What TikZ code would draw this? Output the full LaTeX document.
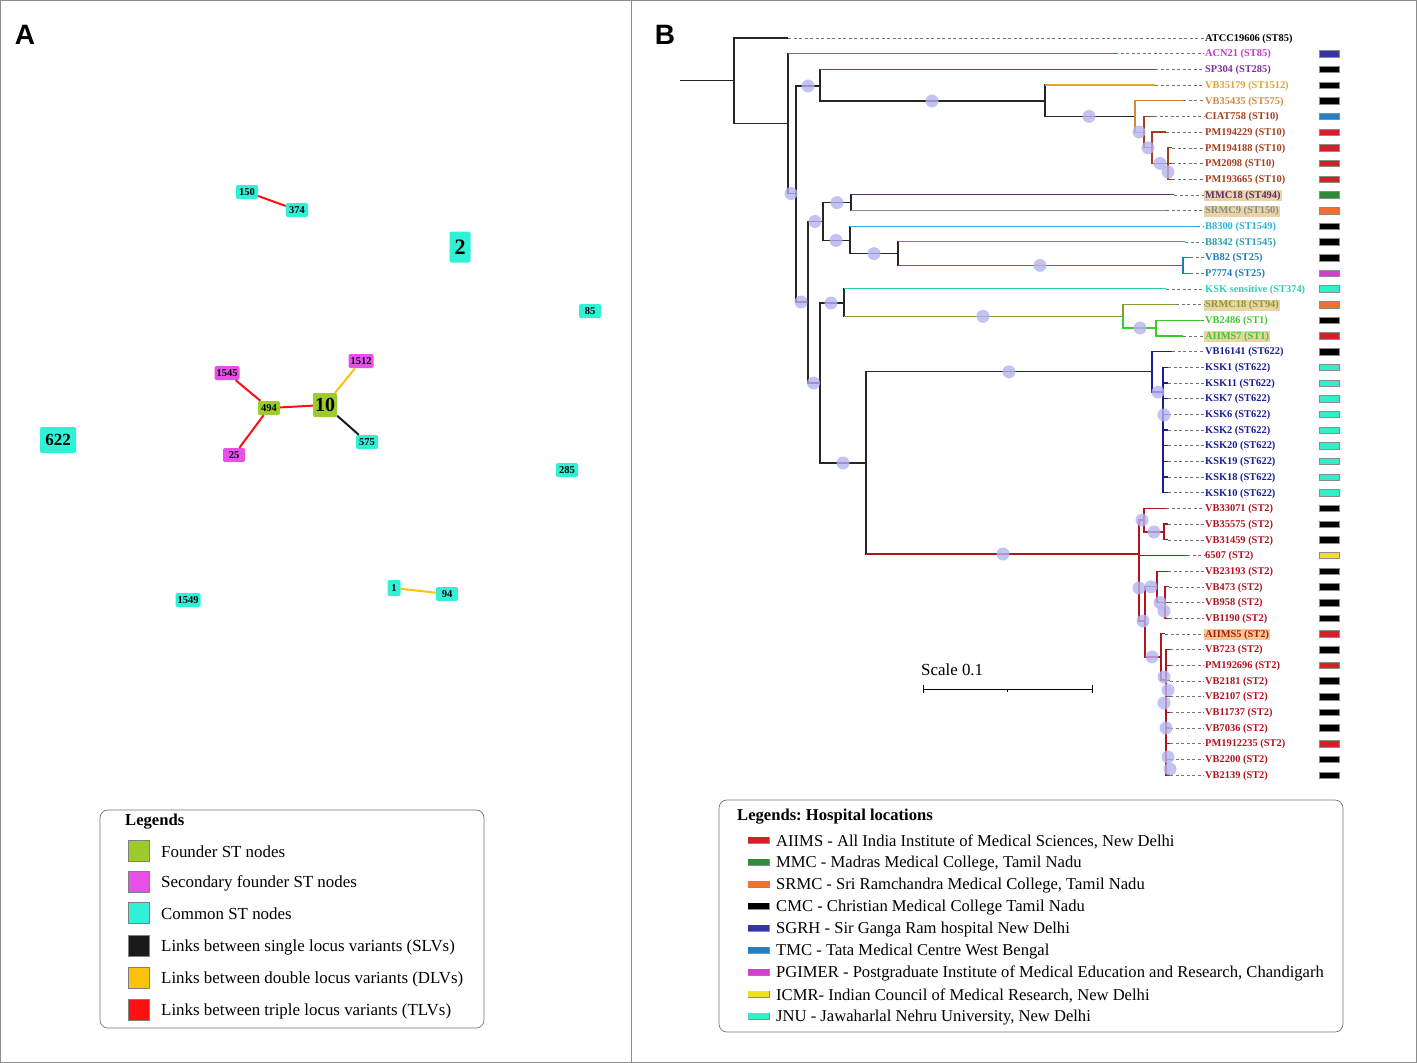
\documentclass[tikz,border=0pt]{standalone}
\usepackage{fontspec}
\setmainfont{Liberation Serif}
\newfontfamily\panelfont{Liberation Sans}
\usetikzlibrary{calc}
\frenchspacing

% node and link colours (panel A)
\definecolor{founder}{HTML}{9BCB2D}
\definecolor{secfounder}{HTML}{E650E6}
\definecolor{common}{HTML}{30F0D6}
\definecolor{slv}{HTML}{1A1A1A}
\definecolor{dlv}{HTML}{FFC20A}
\definecolor{tlv}{HTML}{FF1010}
% hospital colours (panel B)
\definecolor{aiims}{HTML}{D42027}
\definecolor{mmc}{HTML}{2E8B3A}
\definecolor{srmc}{HTML}{F07030}
\definecolor{cmc}{HTML}{000000}
\definecolor{sgrh}{HTML}{3535A8}
\definecolor{tmc}{HTML}{2080D0}
\definecolor{pgimer}{HTML}{D040D0}
\definecolor{icmr}{HTML}{F0E020}
\definecolor{jnu}{HTML}{30F0C8}
% label colours (panel B)
\definecolor{lacn}{HTML}{C23AC8}
\definecolor{lsp}{HTML}{7B3296}
\definecolor{lgold}{HTML}{DDA828}
\definecolor{lorange}{HTML}{D08A3A}
\definecolor{lst10}{HTML}{A0401E}
\definecolor{lmmc}{HTML}{5E2D6E}
\definecolor{lsrmc9}{HTML}{8C8C8C}
\definecolor{lb8300}{HTML}{29B6D8}
\definecolor{lb8342}{HTML}{2A9FB0}
\definecolor{lst25}{HTML}{1F7DB5}
\definecolor{lksks}{HTML}{2BD0B0}
\definecolor{lsrmc18}{HTML}{8E9A30}
\definecolor{lst1}{HTML}{3CCB2C}
\definecolor{lst622}{HTML}{1C1C96}
\definecolor{lst2}{HTML}{B0141E}
\definecolor{hltan}{HTML}{E8D4A4}
\definecolor{hlorange}{HTML}{F7C98E}
\definecolor{bubble}{HTML}{B4B4F0}

\tikzset{
  stnode/.style={rounded corners=2pt, inner sep=2pt, minimum width=22pt, minimum height=14pt, font=\bfseries\fontsize{10.5}{10.5}\selectfont},
  founderst/.style={stnode, fill=founder},
  secst/.style={stnode, fill=secfounder},
  commonst/.style={stnode, fill=common},
  link/.style={line width=2pt},
  panel/.style={font=\panelfont\bfseries\fontsize{28}{28}\selectfont},
  treeline/.style={line width=1.2pt, black!85},
  tiplink/.style={black!55, line width=0.5pt, dash pattern=on 3pt off 2.5pt},
  leaf/.style={anchor=west, inner sep=1pt, font=\bfseries\fontsize{10.4}{10.4}\selectfont},
  locbar/.style={draw=black!45, line width=0.4pt, minimum width=20pt, minimum height=6.5pt, inner sep=0pt},
  bub/.style={circle, fill=bubble, fill opacity=0.8, minimum size=13pt, inner sep=0pt},
  legbox/.style={draw=black!55, rounded corners=8pt, line width=0.7pt},
  legtext/.style={anchor=west, inner sep=0pt, font=\fontsize{16.9}{16.9}\selectfont},
  hosptext/.style={anchor=west, inner sep=0pt, font=\fontsize{16.6}{16.6}\selectfont},
  legtitle/.style={anchor=west, inner sep=0pt, font=\bfseries\fontsize{16.6}{16.6}\selectfont},
  legsq/.style={draw=black!50, line width=0.4pt, minimum size=21pt, inner sep=0pt},
}

\newcommand{\br}[3]{\draw[treeline,#3] (#1) |- (#2);}
\newcommand{\lf}[3]{\draw[treeline] (#1) |- (#2); \draw[treeline,#3] (#1 |- #2) -- (#2);}

\begin{document}
\begin{tikzpicture}[x=1pt, y=-1pt]
\useasboundingbox (0,0) rectangle (1417,1063);

% frame and divider
\draw[black!45, line width=0.8pt] (0.5,0.5) rectangle (1416,1062);
\draw[black!45, line width=0.8pt] (631,0.5) -- (631,1062);

% panel letters
\node[panel] (pa) at (25,35) {A};
\node[panel] (pb) at (665,35) {B};

% ---------- Panel A: goeBURST network ----------
\node[commonst] (st150) at (247,192) {150};
\node[commonst] (st374) at (297,210) {374};
\node[commonst, minimum width=21pt, minimum height=31pt, font=\bfseries\fontsize{22}{22}\selectfont] (st2) at (460,247) {2};
\node[commonst] (st85) at (590,311) {85};
\node[secst] (st1545) at (227,373) {1545};
\node[secst] (st1512) at (361,361) {1512};
\node[founderst] (st494) at (269,408) {494};
\node[founderst, minimum width=24pt, minimum height=24pt, font=\bfseries\fontsize{20}{20}\selectfont] (st10) at (325,405) {10};
\node[commonst] (st575) at (367,442) {575};
\node[secst] (st25) at (234,455) {25};
\node[commonst, minimum width=36pt, minimum height=26pt, font=\bfseries\fontsize{17}{17}\selectfont] (st622) at (58,440) {622};
\node[commonst] (st285) at (567,470) {285};
\node[commonst, minimum width=13pt, minimum height=16pt] (st1) at (394,588) {1};
\node[commonst] (st94) at (447,594) {94};
\node[commonst] (st1549) at (188,600) {1549};

% links
\draw[link, tlv] (st150) -- (st374);
\draw[link, tlv] (st1545) -- (st494);
\draw[link, tlv] (st494) -- (st25);
\draw[link, tlv] (st494) -- (st10);
\draw[link, dlv] (st10) -- (st1512);
\draw[link, slv] (st10) -- (st575);
\draw[link, dlv] (st1) -- (st94);

% legend A
\draw[legbox] (100,810) rectangle (484,1028);
\node[legtitle] (legA) at (125,822) {Legends};
\foreach \k/\yy/\c/\txt in {1/851/founder/Founder ST nodes,
    2/882/secfounder/Secondary founder ST nodes,
    3/913/common/Common ST nodes,
    4/946/slv/Links between single locus variants (SLVs),
    5/978/dlv/Links between double locus variants (DLVs),
    6/1010/tlv/Links between triple locus variants (TLVs)} {
  \node[legsq, fill=\c] (sq\k) at (138.5,\yy) {};
  \node[legtext] (lt\k) at (161,\yy+1) {\txt};
}

% ---------- Panel B: phylogenetic tree ----------
% leaves: index / tip x / label / colour / highlight
\foreach \i/\tx/\lbl/\tc/\hl in {
    1/788/ATCC19606 (ST85)/black/none,
    2/1115/ACN21 (ST85)/lacn/none,
    3/1155/SP304 (ST285)/lsp/none,
    4/1155/VB35179 (ST1512)/lgold/none,
    5/1183/VB35435 (ST575)/lorange/none,
    6/1154/CIAT758 (ST10)/lst10/none,
    7/1166/PM194229 (ST10)/lst10/none,
    8/1172/PM194188 (ST10)/lst10/none,
    9/1172/PM2098 (ST10)/lst10/none,
    10/1172/PM193665 (ST10)/lst10/none,
    11/1174/MMC18 (ST494)/lmmc/hltan,
    12/1166/SRMC9 (ST150)/lsrmc9/hltan,
    13/1197/B8300 (ST1549)/lb8300/none,
    14/1185/B8342 (ST1545)/lb8342/none,
    15/1190/VB82 (ST25)/lst25/none,
    16/1190/P7774 (ST25)/lst25/none,
    17/1166/KSK sensitive (ST374)/lksks/none,
    18/1176/SRMC18 (ST94)/lsrmc18/hltan,
    19/1202/VB2486 (ST1)/lst1/none,
    20/1183/AIIMS7 (ST1)/lst1/hltan,
    21/1172/VB16141 (ST622)/lst622/none,
    22/1168/KSK1 (ST622)/lst622/none,
    23/1168/KSK11 (ST622)/lst622/none,
    24/1168/KSK7 (ST622)/lst622/none,
    25/1168/KSK6 (ST622)/lst622/none,
    26/1168/KSK2 (ST622)/lst622/none,
    27/1168/KSK20 (ST622)/lst622/none,
    28/1168/KSK19 (ST622)/lst622/none,
    29/1168/KSK18 (ST622)/lst622/none,
    30/1168/KSK10 (ST622)/lst622/none,
    31/1166/VB33071 (ST2)/lst2/none,
    32/1168/VB35575 (ST2)/lst2/none,
    33/1168/VB31459 (ST2)/lst2/none,
    34/1187/6507 (ST2)/lst2/none,
    35/1168/VB23193 (ST2)/lst2/none,
    36/1169/VB473 (ST2)/lst2/none,
    37/1169/VB958 (ST2)/lst2/none,
    38/1169/VB1190 (ST2)/lst2/none,
    39/1165/AIIMS5 (ST2)/lst2/hlorange,
    40/1170/VB723 (ST2)/lst2/none,
    41/1170/PM192696 (ST2)/lst2/none,
    42/1170/VB2181 (ST2)/lst2/none,
    43/1170/VB2107 (ST2)/lst2/none,
    44/1170/VB11737 (ST2)/lst2/none,
    45/1170/VB7036 (ST2)/lst2/none,
    46/1170/PM1912235 (ST2)/lst2/none,
    47/1170/VB2200 (ST2)/lst2/none,
    48/1170/VB2139 (ST2)/lst2/none} {
  \pgfmathsetmacro\ly{38+(\i-1)*15.68}
  \coordinate (t\i) at (\tx,\ly);
  \node[leaf, text=\tc, fill=\hl] (l\i) at (1204,\ly+0.8) {\lbl};
  \draw[tiplink] (t\i) -- (l\i.west |- t\i);
}

% internal nodes
\coordinate (r0) at (680,80.5);
\coordinate (n1) at (734,80.5);
\coordinate (n2) at (788,123.5);
\coordinate (n3) at (796,193.5);
\coordinate (n4) at (820,86);
\coordinate (n5) at (1045,101);
\coordinate (n7) at (1135,116.4);
\coordinate (n8) at (1144,132.1);
\coordinate (n9) at (1152,147.8);
\coordinate (n10) at (1168,163.4);
\coordinate (n6) at (808,302);
\coordinate (n11) at (823,221.5);
\coordinate (n15) at (851,202.6);
\coordinate (n16) at (850,240.5);
\coordinate (n17) at (898,253.6);
\coordinate (n18) at (1183,265.4);
\coordinate (n12) at (820,383);
\coordinate (n13) at (844,303);
\coordinate (n19) at (1123,316.3);
\coordinate (n20) at (1156,328);
\coordinate (n14) at (866,463);
\coordinate (n21) at (1152,371.8);
\coordinate (n22) at (1163,392);
\coordinate (s0) at (1139,554);
\coordinate (sA) at (1144,520);
\coordinate (sA2) at (1164,532);
\coordinate (sB) at (1145,621);
\coordinate (sB1) at (1157,586.8);
\coordinate (sB2) at (1165,602.5);
\coordinate (sC) at (1161,656.9);
\coordinate (sD) at (1166,680);

% branches
\draw[treeline] (r0) -- (n1);
\br{n1}{t1}{}
\br{n1}{n2}{}
\lf{n2}{t2}{lacn}
\br{n2}{n3}{}
\br{n3}{n4}{}
\lf{n4}{t3}{lsp}
\br{n4}{n5}{}
\lf{n5}{t4}{lgold}
\br{n5}{n7}{}
\br{n7}{t5}{lorange}
\br{n7}{n8}{lorange}
\br{n8}{t6}{lst10}
\br{n8}{n9}{lst10}
\br{n9}{t7}{lst10}
\br{n9}{n10}{lst10}
\foreach \k in {8,9,10} {\br{n10}{t\k}{lst10}}
\br{n3}{n6}{}
\br{n6}{n11}{}
\br{n6}{n12}{}
\br{n11}{n15}{}
\br{n11}{n16}{}
\lf{n15}{t11}{lmmc}
\lf{n15}{t12}{lsrmc9}
\lf{n16}{t13}{lb8300}
\br{n16}{n17}{}
\lf{n17}{t14}{lb8342}
\lf{n17}{n18}{lst25}
\br{n18}{t15}{lst25}
\br{n18}{t16}{lst25}
\br{n12}{n13}{}
\br{n12}{n14}{}
\lf{n13}{t17}{lksks}
\lf{n13}{n19}{lsrmc18}
\br{n19}{t18}{lsrmc18}
\br{n19}{n20}{lst1}
\br{n20}{t19}{lst1}
\br{n20}{t20}{lst1}
\lf{n14}{n21}{lst622}
\br{n21}{t21}{lst622}
\br{n21}{n22}{lst622}
\foreach \k in {22,...,30} {\br{n22}{t\k}{lst622}}
\lf{n14}{s0}{lst2}
\br{s0}{sA}{lst2}
\br{s0}{t34}{lst2}
\br{s0}{sB}{lst2}
\br{sA}{t31}{lst2}
\br{sA}{sA2}{lst2}
\br{sA2}{t32}{lst2}
\br{sA2}{t33}{lst2}
\br{sB}{sB1}{lst2}
\br{sB}{sC}{lst2}
\br{sB1}{t35}{lst2}
\br{sB1}{sB2}{lst2}
\foreach \k in {36,37,38} {\br{sB2}{t\k}{lst2}}
\br{sC}{t39}{lst2}
\br{sC}{sD}{lst2}
\foreach \k in {40,...,48} {\br{sD}{t\k}{lst2}}

% bootstrap markers
\foreach \bx/\by [count=\c] in {808/86, 932/101, 1089/116.4, 1139/132, 1148/147.8, 1160/163.4, 1168/172,
    791/193.5, 801/302, 815/221.5, 837/202.6, 836/240.5, 874/253.6, 1040/265.4,
    813.5/383, 831/303, 983/316.3, 1140/328, 843/463, 1009/371.8, 1158/392, 1164/415,
    1003/554, 1142/520, 1154/532, 1139/588, 1143/621, 1151/586.8, 1160/602.5, 1164/611,
    1152/656.9, 1164/677, 1168/690, 1164/703, 1166/728, 1168/757, 1170/769}
  \node[bub] (bs\c) at (\bx,\by) {};

% location bars
\foreach \i/\bc in {2/sgrh,3/cmc,4/cmc,5/cmc,6/tmc,7/aiims,8/aiims,9/aiims,10/aiims,
    11/mmc,12/srmc,13/cmc,14/cmc,15/cmc,16/pgimer,17/jnu,18/srmc,19/cmc,20/aiims,
    21/cmc,22/jnu,23/jnu,24/jnu,25/jnu,26/jnu,27/jnu,28/jnu,29/jnu,30/jnu,
    31/cmc,32/cmc,33/cmc,34/icmr,35/cmc,36/cmc,37/cmc,38/cmc,39/aiims,40/cmc,
    41/aiims,42/cmc,43/cmc,44/cmc,45/cmc,46/aiims,47/cmc,48/cmc} {
  \pgfmathsetmacro\ly{38+(\i-1)*15.68}
  \node[locbar, fill=\bc] (b\i) at (1329,\ly) {};
}

% scale bar
\node[legtext] (scl) at (921,670) {Scale 0.1};
\coordinate (sc0) at (923,689);
\coordinate (sc1) at (1092,689);
\draw[line width=1pt] (sc0) -- (sc1);
\draw[line width=1pt] ($(sc0)+(0,-4)$) -- ($(sc0)+(0,4)$);
\draw[line width=1pt] ($(sc1)+(0,-4)$) -- ($(sc1)+(0,4)$);
\draw[line width=0.8pt] ($(sc0)!0.5!(sc1)$) -- ++(0,2.5);

% legend B
\draw[legbox] (719,800) rectangle (1343,1032);
\node[legtitle] (legB) at (737,817) {Legends: Hospital locations};
\foreach \k/\c/\txt in {1/aiims/{AIIMS - All India Institute of Medical Sciences, New Delhi},
    2/mmc/{MMC - Madras Medical College, Tamil Nadu},
    3/srmc/{SRMC - Sri Ramchandra Medical College, Tamil Nadu},
    4/cmc/{CMC - Christian Medical College Tamil Nadu},
    5/sgrh/{SGRH - Sir Ganga Ram hospital New Delhi},
    6/tmc/{TMC - Tata Medical Centre West Bengal},
    7/pgimer/{PGIMER - Postgraduate Institute of Medical Education and Research, Chandigarh},
    8/icmr/{ICMR- Indian Council of Medical Research, New Delhi},
    9/jnu/{JNU - Jawaharlal Nehru University, New Delhi}} {
  \pgfmathsetmacro\ly{840+(\k-1)*22}
  \node[locbar, minimum width=21pt] (hb\k) at (758.5,\ly) {};
  \node[locbar, draw=none, fill=\c, minimum width=21pt] (hf\k) at (758.5,\ly) {};
  \node[hosptext] (ht\k) at (776,\ly+1.5) {\txt};
}
\end{tikzpicture}
\end{document}
